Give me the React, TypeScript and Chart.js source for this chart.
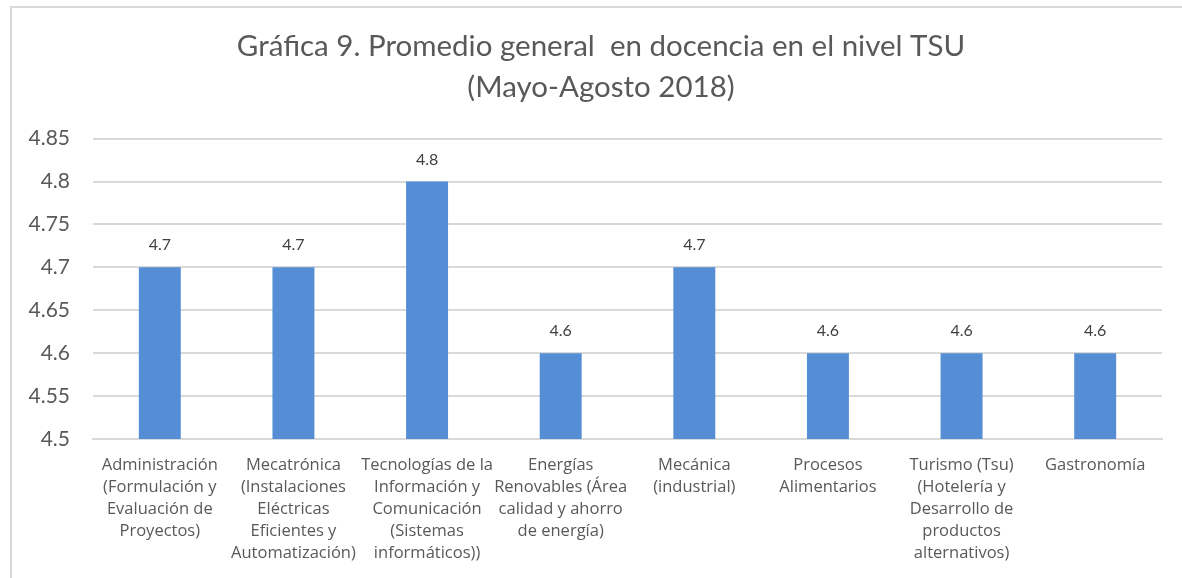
import React, { useEffect, useRef } from "react";
import { Chart, registerables } from "chart.js";

Chart.register(...registerables);

const titleLines = ["Gráfica 9. Promedio general  en docencia en el nivel TSU", "(Mayo-Agosto 2018)"];

const categories: string[][] = [
  ["Administración", "(Formulación y", "Evaluación de", "Proyectos)"],
  ["Mecatrónica", "(Instalaciones", "Eléctricas", "Eficientes y", "Automatización)"],
  ["Tecnologías de la", "Información y", "Comunicación", "(Sistemas", "informáticos))"],
  ["Energías", "Renovables (Área", "calidad y ahorro", "de energía)"],
  ["Mecánica", "(industrial)"],
  ["Procesos", "Alimentarios"],
  ["Turismo (Tsu)", "(Hotelería y", "Desarrollo de", "productos", "alternativos)"],
  ["Gastronomía"],
];

const promedio: number[] = [4.7, 4.7, 4.8, 4.6, 4.7, 4.6, 4.6, 4.6];

const yTickLabels: string[] = ["4.5", "4.55", "4.6", "4.65", "4.7", "4.75", "4.8", "4.85"];

const FONT = "Lato, 'Open Sans', sans-serif";
const LABEL_FONT = "'Open Sans', Lato, sans-serif";

const CANVAS_LEFT = 20;
const CANVAS_W = 1162;
const CANVAS_H = 578;

const dataLabelPlugin = {
  id: "dataLabels",
  afterDatasetsDraw(chart: any) {
    const ctx = chart.ctx;
    const meta = chart.getDatasetMeta(0);
    ctx.save();
    ctx.font = `16px ${FONT}`;
    ctx.fillStyle = "#404040";
    ctx.textAlign = "center";
    ctx.textBaseline = "middle";
    meta.data.forEach((bar: any, i: number) => {
      ctx.fillText(String(promedio[i]), bar.x, bar.y - 22);
    });
    ctx.restore();
  },
};

export default function App() {
  const ref = useRef<HTMLCanvasElement | null>(null);
  useEffect(() => {
    if (!ref.current) return;
    const chart = new Chart(ref.current, {
      type: "bar",
      data: {
        labels: categories,
        datasets: [
          {
            data: promedio,
            backgroundColor: "#558ED5",
            borderWidth: 0,
            barPercentage: 1,
            categoryPercentage: 0.314,
            yAxisID: "y",
          },
        ],
      },
      plugins: [dataLabelPlugin],
      options: {
        responsive: false,
        animation: false,
        layout: { padding: { left: 0, right: 0, top: 0, bottom: 0 } },
        plugins: {
          legend: { display: false },
          tooltip: { enabled: false },
          title: {
            display: true,
            text: titleLines,
            color: "#595959",
            font: { family: FONT, size: 29.5, weight: "normal", lineHeight: 1.4 },
            padding: { top: 26, bottom: 30 },
          },
        },
        scales: {
          x: {
            grid: { display: false, drawTicks: false },
            border: { display: true, color: "#d9d9d9", width: 2 },
            ticks: {
              color: "#595959",
              font: { family: LABEL_FONT, size: 16.5, lineHeight: 1.34 },
              padding: 15,
              maxRotation: 0,
              minRotation: 0,
              autoSkip: false,
            },
            afterFit: (s: any) => {
              s.height = 578 - 439;
            },
          },
          y: {
            min: 4.5,
            max: 4.85,
            grid: { color: "#d9d9d9", lineWidth: 2, drawTicks: false },
            border: { display: false },
            ticks: {
              stepSize: 0.05,
              color: "#595959",
              font: { family: FONT, size: 21 },
              padding: 23,
              callback: (v: any, i: number) => yTickLabels[i] ?? String(v),
            },
            afterFit: (s: any) => {
              s.width = 93 - CANVAS_LEFT;
            },
          },
          yRight: {
            position: "right",
            display: true,
            min: 4.5,
            max: 4.85,
            grid: { display: false, drawTicks: false },
            border: { display: false },
            ticks: { display: false },
            afterFit: (s: any) => {
              s.width = 20;
            },
          },
        },
      },
    });
    return () => chart.destroy();
  }, []);

  return (
    <div style={{ position: "absolute", left: 0, top: 0, width: 1182, height: 578, background: "#fff" }}>
      <div
        style={{
          position: "absolute",
          left: 10,
          top: 6,
          width: 1172,
          height: 572,
          borderLeft: "2px solid #d9d9d9",
          borderTop: "2px solid #d9d9d9",
          boxSizing: "border-box",
        }}
      />
      <canvas
        ref={ref}
        width={CANVAS_W}
        height={CANVAS_H}
        style={{ position: "absolute", left: CANVAS_LEFT, top: 0 }}
      />
    </div>
  );
}
